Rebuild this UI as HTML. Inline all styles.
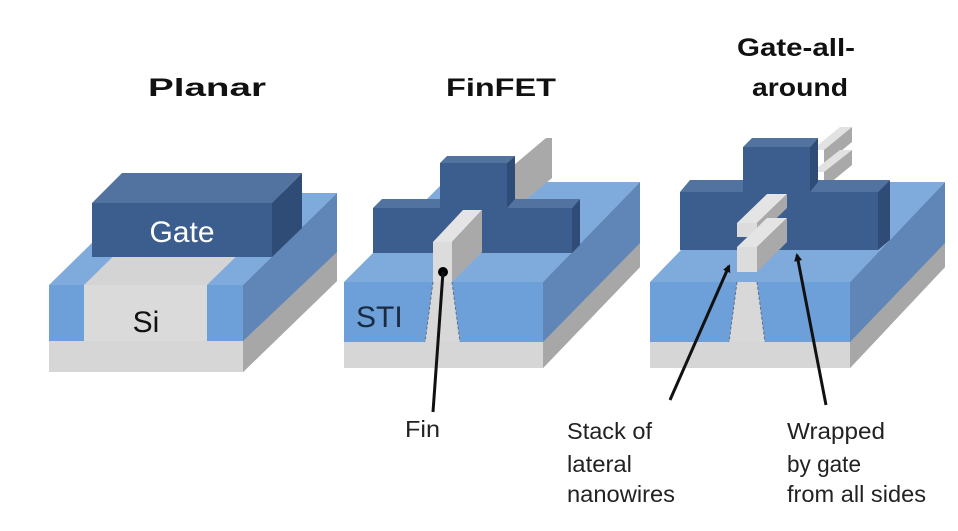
<!DOCTYPE html>
<html><head><meta charset="utf-8"><style>
html,body{margin:0;padding:0;background:#fff;}
svg{display:block;}
.t{font-family:"Liberation Sans",sans-serif;font-weight:bold;font-size:25px;fill:#111;}
.l{font-family:"Liberation Sans",sans-serif;font-size:23px;fill:#222;}
</style></head><body>
<svg width="958" height="531" viewBox="0 0 958 531" xmlns="http://www.w3.org/2000/svg">
<defs>
<marker id="ah" markerWidth="8" markerHeight="8" refX="6" refY="4" orient="auto" markerUnits="userSpaceOnUse">
<path d="M0,0 L8,4 L0,8 z" fill="#111"/></marker>
</defs>
<!-- Titles -->
<text class="t" x="207" y="96" text-anchor="middle" textLength="118" lengthAdjust="spacingAndGlyphs">Planar</text>
<text class="t" x="501" y="96" text-anchor="middle" textLength="110" lengthAdjust="spacingAndGlyphs">FinFET</text>
<text class="t" x="796" y="56" text-anchor="middle" textLength="118" lengthAdjust="spacingAndGlyphs">Gate-all-</text>
<text class="t" x="800" y="96" text-anchor="middle" textLength="96" lengthAdjust="spacingAndGlyphs">around</text>

<!-- PLANAR -->
<polygon points="49,285 143,193 337,193 243,285" fill="#7eaadc"/>
<polygon points="84,285 130,240 253,240 207,285" fill="#d4d4d4"/>
<polygon points="243,285 337,193 337,281 243,372" fill="#5f86b6"/>
<polygon points="243,341 337,252 337,281 243,372" fill="#a7a7a7"/>
<rect x="49" y="285" width="194" height="56" fill="#6d9fd8"/>
<rect x="84" y="285" width="123" height="56" fill="#dadada"/>
<rect x="49" y="341" width="194" height="31" fill="#d6d6d6"/>
<polygon points="92,203 122,173 302,173 272,203" fill="#52729f"/>
<polygon points="272,203 302,173 302,228 272,257" fill="#2f4c77"/>
<rect x="92" y="203" width="180" height="54" fill="#3b5e8e"/>
<text x="182" y="242" text-anchor="middle" font-family="Liberation Sans,sans-serif" font-size="30" fill="#fff">Gate</text>
<text x="146" y="332" text-anchor="middle" font-family="Liberation Sans,sans-serif" font-size="30" fill="#111">Si</text>

<!-- FINFET -->
<polygon points="344,282 444,182 640,182 543,282" fill="#7eaadc"/>
<polygon points="543,282 640,182 640,267 543,368" fill="#5f86b6"/>
<polygon points="543,342 640,243 640,267 543,368" fill="#a7a7a7"/>
<rect x="344" y="282" width="199" height="60" fill="#6d9fd8"/>
<rect x="344" y="342" width="199" height="26" fill="#d6d6d6"/>
<polygon points="433,282 452,282 460,342 425,342" fill="#d8d8d8"/>
<path d="M433,282 L425,342 M452,282 L460,342" stroke="#5a6f8a" stroke-dasharray="3,2" stroke-width="1"/>
<!-- back fin -->
<polygon points="514,165 546,138 552,138 520,165" fill="#e2e2e2"/>
<polygon points="514,165 546,138 552,138 552,178 516,208" fill="#a9a9a9"/>
<!-- gate lower -->
<polygon points="373,208 382,199 580,199 572,208" fill="#52729f"/>
<polygon points="572,208 580,199 580,245 572,253" fill="#2f4c77"/>
<rect x="373" y="208" width="199" height="45" fill="#3b5e8e"/>
<!-- gate upper -->
<polygon points="440,163 447,156 515,156 507,163" fill="#52729f"/>
<polygon points="507,163 515,156 515,199 507,208" fill="#2f4c77"/>
<rect x="440" y="163" width="67" height="46" fill="#3b5e8e"/>
<!-- front fin -->
<polygon points="433,242 463,210 482,210 452,242" fill="#e4e4e4"/>
<polygon points="452,242 482,210 482,252 452,282" fill="#a9a9a9"/>
<rect x="433" y="242" width="19" height="40" fill="#dcdcdc"/>
<text x="356" y="327" font-family="Liberation Sans,sans-serif" font-size="30" fill="#1a2a40">STI</text>
<circle cx="443" cy="272" r="5" fill="#000"/>
<line x1="443" y1="272" x2="433" y2="412" stroke="#111" stroke-width="3"/>
<text class="l" x="405" y="437" textLength="35" lengthAdjust="spacingAndGlyphs">Fin</text>

<!-- GAA -->
<polygon points="650,282 747,182 945,182 850,282" fill="#7eaadc"/>
<polygon points="850,282 945,182 945,267 850,368" fill="#5f86b6"/>
<polygon points="850,342 945,243 945,267 850,368" fill="#a7a7a7"/>
<rect x="650" y="282" width="200" height="60" fill="#6d9fd8"/>
<rect x="650" y="342" width="200" height="26" fill="#d6d6d6"/>
<polygon points="737,282 757,282 765,342 729,342" fill="#d8d8d8"/>
<path d="M737,282 L729,342 M757,282 L765,342" stroke="#5a6f8a" stroke-dasharray="3,2" stroke-width="1"/>
<!-- back wires -->
<polygon points="812,150 840,127 852,127 824,150" fill="#e2e2e2"/>
<polygon points="824,150 852,127 852,142 824,165" fill="#a9a9a9"/>
<polygon points="812,172 840,150 852,150 824,172" fill="#e2e2e2"/>
<polygon points="824,172 852,150 852,165 824,188" fill="#a9a9a9"/>
<!-- gate lower -->
<polygon points="680,192 690,180 890,180 878,192" fill="#52729f"/>
<polygon points="878,192 890,180 890,240 878,250" fill="#2f4c77"/>
<rect x="680" y="192" width="198" height="58" fill="#3b5e8e"/>
<!-- gate upper -->
<polygon points="743,147 752,138 818,138 810,147" fill="#52729f"/>
<polygon points="810,147 818,138 818,182 810,192" fill="#2f4c77"/>
<rect x="743" y="147" width="67" height="46" fill="#3b5e8e"/>
<!-- nanowires front -->
<polygon points="737,223 767,194 787,194 757,223" fill="#e4e4e4"/>
<polygon points="757,223 787,194 787,208 757,237" fill="#a9a9a9"/>
<rect x="737" y="223" width="20" height="14" fill="#dcdcdc"/>
<polygon points="737,247 767,218 787,218 757,247" fill="#e4e4e4"/>
<polygon points="757,247 787,218 787,242 757,272" fill="#a9a9a9"/>
<rect x="737" y="247" width="20" height="25" fill="#dcdcdc"/>
<line x1="670" y1="400" x2="729" y2="266" stroke="#111" stroke-width="3" marker-end="url(#ah)"/>
<line x1="826" y1="405" x2="797" y2="255" stroke="#111" stroke-width="3" marker-end="url(#ah)"/>
<text class="l" x="567" y="439" textLength="85" lengthAdjust="spacingAndGlyphs">Stack of</text>
<text class="l" x="567" y="472" textLength="65" lengthAdjust="spacingAndGlyphs">lateral</text>
<text class="l" x="567" y="502" textLength="108" lengthAdjust="spacingAndGlyphs">nanowires</text>
<text class="l" x="787" y="439" textLength="98" lengthAdjust="spacingAndGlyphs">Wrapped</text>
<text class="l" x="787" y="472" textLength="74" lengthAdjust="spacingAndGlyphs">by gate</text>
<text class="l" x="787" y="502" textLength="139" lengthAdjust="spacingAndGlyphs">from all sides</text>
</svg>
</body></html>
